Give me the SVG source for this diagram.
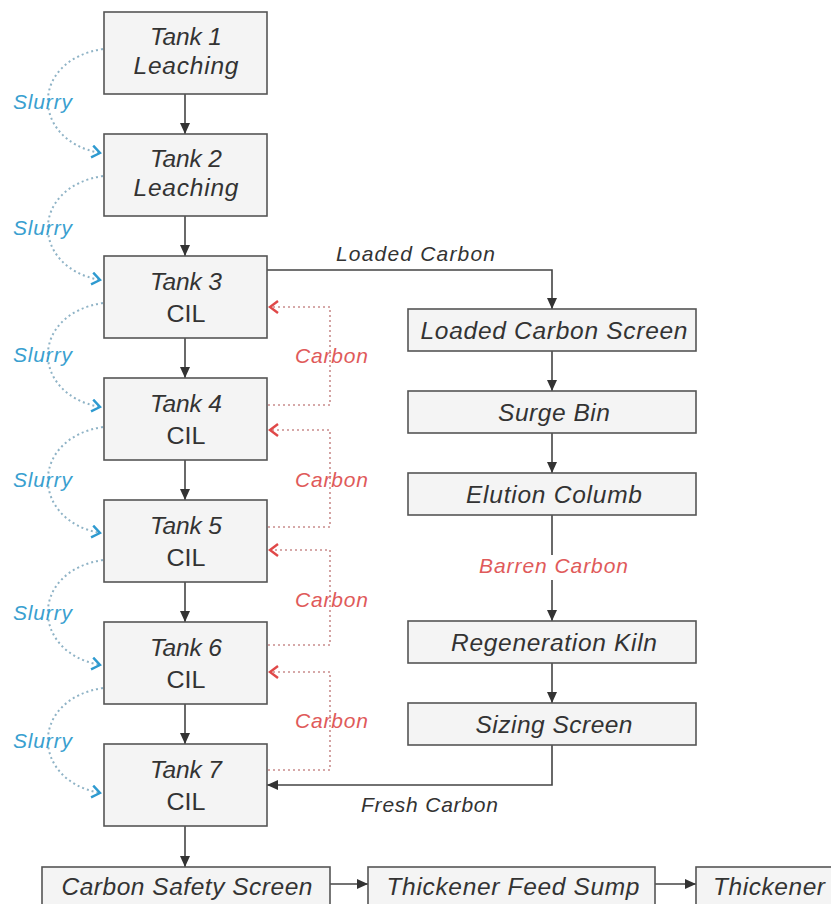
<svg xmlns="http://www.w3.org/2000/svg" width="831" height="904" viewBox="0 0 831 904">
<style>
.box{fill:#f4f4f4;stroke:#555;stroke-width:1.6}
.lbl{font-family:"Liberation Sans",Arial,sans-serif;font-size:24.5px;font-style:italic;fill:#333;text-anchor:middle}
.up{font-style:normal}
.sm{font-family:"Liberation Sans",Arial,sans-serif;font-size:21px;font-style:italic}
.slurry{fill:#3a9fd0}
.carb{fill:#e05a5a}
.dark{fill:#333}
.flow{fill:none;stroke:#444;stroke-width:1.6}
.sl{fill:none;stroke:#8fb3c6;stroke-width:2;stroke-dasharray:2 3}
.cb{fill:none;stroke:#c98c8c;stroke-width:1.6;stroke-dasharray:2 3}
</style>
<defs>
<marker id="ah" markerUnits="userSpaceOnUse" markerWidth="12" markerHeight="12" refX="11" refY="6" orient="auto"><path d="M0,1 L11,6 L0,11 z" fill="#333"/></marker>
<marker id="bc" markerUnits="userSpaceOnUse" markerWidth="12" markerHeight="14" refX="9" refY="7" orient="auto"><path d="M1,1 L9,7 L1,13" fill="none" stroke="#2e9ad0" stroke-width="2.4"/></marker>
<marker id="rc" markerUnits="userSpaceOnUse" markerWidth="12" markerHeight="14" refX="9" refY="7" orient="auto"><path d="M1,1 L9,7 L1,13" fill="none" stroke="#e04848" stroke-width="2.4"/></marker>
</defs>

<g id="connectors">
<path class="flow" d="M185,94 V134" marker-end="url(#ah)"/>
<path class="flow" d="M185,216 V256" marker-end="url(#ah)"/>
<path class="flow" d="M185,338 V378" marker-end="url(#ah)"/>
<path class="flow" d="M185,460 V500" marker-end="url(#ah)"/>
<path class="flow" d="M185,582 V622" marker-end="url(#ah)"/>
<path class="flow" d="M185,704 V744" marker-end="url(#ah)"/>
<path class="flow" d="M185,826 V867" marker-end="url(#ah)"/>
<path class="flow" d="M267,270 H552 V309" marker-end="url(#ah)"/>
<path class="flow" d="M552,351 V391" marker-end="url(#ah)"/>
<path class="flow" d="M552,433 V473" marker-end="url(#ah)"/>
<path class="flow" d="M552,515 V555"/>
<path class="flow" d="M552,580 V621" marker-end="url(#ah)"/>
<path class="flow" d="M552,663 V703" marker-end="url(#ah)"/>
<path class="flow" d="M552,745 V785 H267" marker-end="url(#ah)"/>
<path class="flow" d="M330,884 H368" marker-end="url(#ah)"/>
<path class="flow" d="M655,884 H696" marker-end="url(#ah)"/>
<path class="sl" d="M103,49 C30,60 30,140 100,153" marker-end="url(#bc)"/>
<path class="sl" d="M103,176 C30,187 30,267 100,280" marker-end="url(#bc)"/>
<path class="sl" d="M103,303 C30,314 30,394 100,407" marker-end="url(#bc)"/>
<path class="sl" d="M103,427 C30,438 30,520 100,533" marker-end="url(#bc)"/>
<path class="sl" d="M103,560 C30,571 30,652 100,665" marker-end="url(#bc)"/>
<path class="sl" d="M103,688 C30,699 30,780 100,793" marker-end="url(#bc)"/>
<path class="cb" d="M268,405 H330 V307 H270" marker-end="url(#rc)"/>
<path class="cb" d="M268,527 H330 V430 H270" marker-end="url(#rc)"/>
<path class="cb" d="M268,645 H330 V550 H270" marker-end="url(#rc)"/>
<path class="cb" d="M268,770 H330 V672 H270" marker-end="url(#rc)"/>
<text class="sm dark" x="336" y="261" textLength="159" lengthAdjust="spacing">Loaded Carbon</text>
<text class="sm carb" x="479" y="573" textLength="149" lengthAdjust="spacing">Barren Carbon</text>
<text class="sm dark" x="361" y="812" textLength="137" lengthAdjust="spacing">Fresh Carbon</text>
<text class="sm slurry" x="13" y="109" textLength="59" lengthAdjust="spacing">Slurry</text>
<text class="sm slurry" x="13" y="235" textLength="59" lengthAdjust="spacing">Slurry</text>
<text class="sm slurry" x="13" y="362" textLength="59" lengthAdjust="spacing">Slurry</text>
<text class="sm slurry" x="13" y="487" textLength="59" lengthAdjust="spacing">Slurry</text>
<text class="sm slurry" x="13" y="620" textLength="59" lengthAdjust="spacing">Slurry</text>
<text class="sm slurry" x="13" y="748" textLength="59" lengthAdjust="spacing">Slurry</text>
<text class="sm carb" x="295" y="363" textLength="73" lengthAdjust="spacing">Carbon</text>
<text class="sm carb" x="295" y="487" textLength="73" lengthAdjust="spacing">Carbon</text>
<text class="sm carb" x="295" y="607" textLength="73" lengthAdjust="spacing">Carbon</text>
<text class="sm carb" x="295" y="728" textLength="73" lengthAdjust="spacing">Carbon</text>
</g>

<g id="tank1"><rect class="box" x="104" y="12" width="163" height="82"/><text class="lbl" x="186" y="45" textLength="72" lengthAdjust="spacing">Tank 1</text><text class="lbl" x="186" y="74" textLength="105" lengthAdjust="spacing">Leaching</text></g>
<g id="tank2"><rect class="box" x="104" y="134" width="163" height="82"/><text class="lbl" x="186" y="167" textLength="72" lengthAdjust="spacing">Tank 2</text><text class="lbl" x="186" y="196" textLength="105" lengthAdjust="spacing">Leaching</text></g>
<g id="tank3"><rect class="box" x="104" y="256" width="163" height="82"/><text class="lbl" x="186" y="290" textLength="72" lengthAdjust="spacing">Tank 3</text><text class="lbl up" x="186" y="322" textLength="39" lengthAdjust="spacingAndGlyphs">CIL</text></g>
<g id="tank4"><rect class="box" x="104" y="378" width="163" height="82"/><text class="lbl" x="186" y="412" textLength="72" lengthAdjust="spacing">Tank 4</text><text class="lbl up" x="186" y="444" textLength="39" lengthAdjust="spacingAndGlyphs">CIL</text></g>
<g id="tank5"><rect class="box" x="104" y="500" width="163" height="82"/><text class="lbl" x="186" y="534" textLength="72" lengthAdjust="spacing">Tank 5</text><text class="lbl up" x="186" y="566" textLength="39" lengthAdjust="spacingAndGlyphs">CIL</text></g>
<g id="tank6"><rect class="box" x="104" y="622" width="163" height="82"/><text class="lbl" x="186" y="656" textLength="72" lengthAdjust="spacing">Tank 6</text><text class="lbl up" x="186" y="688" textLength="39" lengthAdjust="spacingAndGlyphs">CIL</text></g>
<g id="tank7"><rect class="box" x="104" y="744" width="163" height="82"/><text class="lbl" x="186" y="778" textLength="72" lengthAdjust="spacing">Tank 7</text><text class="lbl up" x="186" y="810" textLength="39" lengthAdjust="spacingAndGlyphs">CIL</text></g>

<g id="loaded-carbon-screen"><rect class="box" x="408" y="309" width="288" height="42"/><text class="lbl" x="554" y="339" textLength="267" lengthAdjust="spacing">Loaded Carbon Screen</text></g>
<g id="surge-bin"><rect class="box" x="408" y="391" width="288" height="42"/><text class="lbl" x="554" y="421" textLength="112" lengthAdjust="spacing">Surge Bin</text></g>
<g id="elution-columb"><rect class="box" x="408" y="473" width="288" height="42"/><text class="lbl" x="554" y="503" textLength="176" lengthAdjust="spacing">Elution Columb</text></g>
<g id="regeneration-kiln"><rect class="box" x="408" y="621" width="288" height="42"/><text class="lbl" x="554" y="651" textLength="206" lengthAdjust="spacing">Regeneration Kiln</text></g>
<g id="sizing-screen"><rect class="box" x="408" y="703" width="288" height="42"/><text class="lbl" x="554" y="733" textLength="157" lengthAdjust="spacing">Sizing Screen</text></g>

<g id="carbon-safety-screen"><rect class="box" x="42" y="867" width="288" height="45"/><text class="lbl" x="187" y="895" textLength="251" lengthAdjust="spacing">Carbon Safety Screen</text></g>
<g id="thickener-feed-sump"><rect class="box" x="368" y="867" width="287" height="45"/><text class="lbl" x="513" y="895" textLength="253" lengthAdjust="spacing">Thickener Feed Sump</text></g>
<g id="thickener"><rect class="box" x="696" y="867" width="150" height="45"/><text class="lbl" x="769" y="895" textLength="112" lengthAdjust="spacing">Thickener</text></g>
</svg>
